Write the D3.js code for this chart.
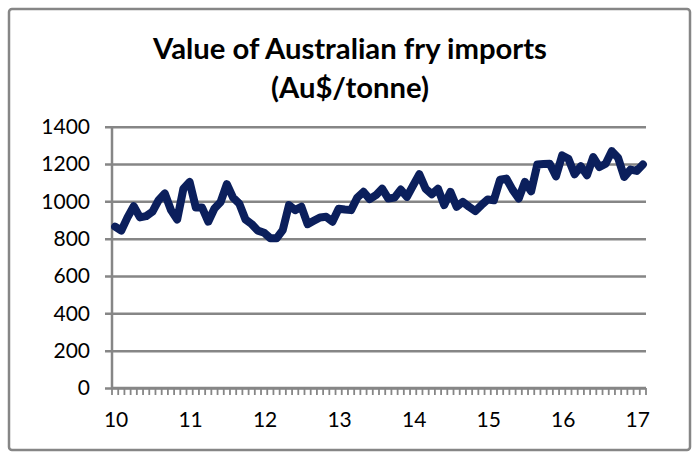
<!DOCTYPE html>
<html>
<head>
<meta charset="utf-8">
<script src="https://cdn.jsdelivr.net/npm/d3@7"></script>
<style>
  html, body { margin: 0; padding: 0; background: #fff; }
  svg { display: block; }
  text { font-family: Lato, "Open Sans", sans-serif; fill: #000; }
</style>
</head>
<body>
<svg id="chart" width="699" height="462"></svg>
<script>
// ---- data ----
const titleLines = ["Value of Australian fry imports", "(Au$/tonne)"];
const yearLabels = ["10", "11", "12", "13", "14", "15", "16", "17"];
const yTicks = [0, 200, 400, 600, 800, 1000, 1200, 1400];
// monthly values, Jan 2010 .. Feb 2017 (Au$/tonne)
const values = [
  864, 843, 914, 974, 914, 921, 944, 1006, 1042, 953, 903, 1068,
  1104, 967, 967, 891, 962, 997, 1092, 1020, 988, 903, 878, 843,
  832, 802, 802, 846, 980, 953, 971, 878, 896, 914, 917, 891,
  960, 956, 953, 1020, 1051, 1012, 1033, 1068, 1015, 1020, 1063, 1024,
  1086, 1145, 1068, 1038, 1068, 980, 1051, 971, 997, 971, 948, 980,
  1010, 1006, 1116, 1122, 1063, 1015, 1104, 1054, 1198, 1200, 1202, 1134,
  1246, 1228, 1145, 1188, 1140, 1237, 1184, 1202, 1269, 1234, 1131, 1170,
  1163, 1198
];
const months = d3.range(values.length);

// ---- layout ----
const svg = d3.select("#chart");
const pLeft = 112, pRight = 646, pTop = 126.7, pBottom = 388;
const gray = "#868686";

svg.append("rect")
  .attr("x", 9).attr("y", 9).attr("width", 681).attr("height", 441)
  .attr("rx", 3)
  .attr("fill", "#fff").attr("stroke", gray).attr("stroke-width", 2.5);

const x = d3.scaleBand().domain(months).range([pLeft, pRight]).padding(0);
const y = d3.scaleLinear().domain([0, 1400]).range([pBottom, pTop]);

// title
const titleY = [59, 98];
let titleSize = 23;
titleLines.forEach((t, i) => {
  const el = svg.append("text")
    .attr("x", 350).attr("y", titleY[i])
    .attr("text-anchor", "middle")
    .attr("font-weight", "bold")
    .attr("font-size", titleSize)
    .text(t);
  if (i === 0) {
    const w = el.node().getComputedTextLength();
    titleSize = titleSize * 394 / w;
    el.attr("font-size", titleSize);
  }
});

// gridlines + y axis ticks
const yAxis = d3.axisLeft(y).tickValues(yTicks).tickFormat(d3.format("d"))
  .tickSize(-(pRight - pLeft)).tickSizeOuter(0).tickPadding(22);
const gy = svg.append("g").attr("transform", `translate(${pLeft},0)`).call(yAxis);
gy.select(".domain").remove();
gy.selectAll(".tick line")
  .attr("x1", -7)
  .attr("stroke", gray).attr("stroke-width", 2.5);
gy.selectAll(".tick text")
  .attr("font-size", 21).attr("font-family", "Lato, sans-serif").attr("fill", "#000")
  .attr("dy", "0.33em");

// y axis line
svg.append("line")
  .attr("x1", pLeft).attr("x2", pLeft).attr("y1", pTop).attr("y2", pBottom)
  .attr("stroke", gray).attr("stroke-width", 2.5);

// x axis: minor ticks at each month boundary
const bounds = months.map(d => x(d)).concat([pRight]);
svg.append("g").selectAll("line").data(bounds).join("line")
  .attr("x1", d => d).attr("x2", d => d)
  .attr("y1", pBottom).attr("y2", pBottom + 7)
  .attr("stroke", gray).attr("stroke-width", 1.8);
svg.append("line")
  .attr("x1", pLeft - 1).attr("x2", pRight).attr("y1", pBottom).attr("y2", pBottom)
  .attr("stroke", gray).attr("stroke-width", 2.5);

// x labels every 12 months
svg.append("g").selectAll("text").data(yearLabels).join("text")
  .attr("x", (d, i) => x(i * 12) + x.bandwidth() / 2 + 1)
  .attr("y", 427)
  .attr("text-anchor", "middle")
  .attr("font-size", 21)
  .text(d => d);

// line
const line = d3.line()
  .x((d, i) => x(i) + x.bandwidth() / 2)
  .y(d => y(d));
svg.append("path")
  .datum(values)
  .attr("d", line)
  .attr("fill", "none")
  .attr("stroke", "#0b1f5c")
  .attr("stroke-width", 8)
  .attr("stroke-linejoin", "round")
  .attr("stroke-linecap", "round");
</script>
</body>
</html>
